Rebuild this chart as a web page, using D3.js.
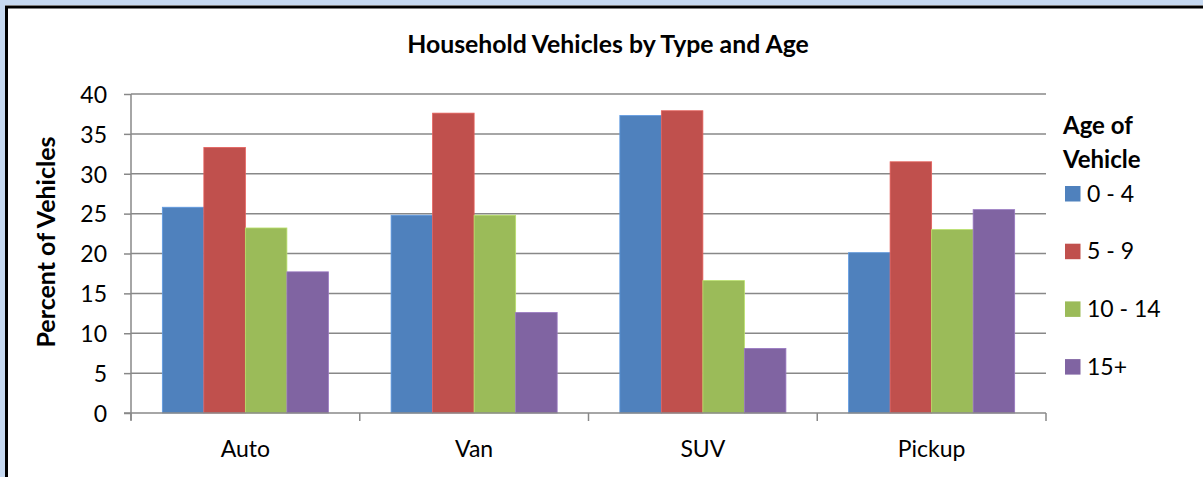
<!DOCTYPE html>
<html>
<head>
<meta charset="utf-8">
<script src="https://cdn.jsdelivr.net/npm/d3@7"></script>
<style>
  body { margin: 0; background: #c6d9f1; }
  svg { display: block; font-family: Lato, "Open Sans", sans-serif; }
</style>
</head>
<body>
<svg width="1203" height="477"></svg>
<script>
const categories = ["Auto", "Van", "SUV", "Pickup"];
const ageGroups = ["0 - 4", "5 - 9", "10 - 14", "15+"];
const age0to4 = [25.8, 24.8, 37.3, 20.1];
const age5to9 = [33.3, 37.6, 37.9, 31.5];
const age10to14 = [23.2, 24.8, 16.6, 23.0];
const age15plus = [17.7, 12.6, 8.1, 25.5];
const yTicks = [0, 5, 10, 15, 20, 25, 30, 35, 40];
const colors = ["#4f81bd", "#c0504d", "#9bbb59", "#8064a2"];

const series = [age0to4, age5to9, age10to14, age15plus];
const data = categories.map((c, i) => ({
  category: c,
  values: ageGroups.map((a, j) => ({ age: a, value: series[j][i], idx: j }))
}));

const svg = d3.select("svg");

// white chart background with black frame
svg.append("rect")
  .attr("x", 5).attr("y", 5)
  .attr("width", 1203).attr("height", 480)
  .attr("fill", "#fff");
svg.append("path")
  .attr("d", "M6.5,480 V7 H1210")
  .attr("fill", "none")
  .attr("stroke", "#000")
  .attr("stroke-width", 3);

const margin = {top: 94, left: 131},
      width = 1046 - 131,
      height = 413 - 94;

const g = svg.append("g").attr("transform", `translate(${margin.left},${margin.top})`);

const x0 = d3.scaleBand()
  .domain(categories)
  .range([0, width])
  .paddingInner(0.274)
  .paddingOuter(0.137);

const x1 = d3.scaleBand()
  .domain(ageGroups)
  .range([0, x0.bandwidth()]);

const y = d3.scaleLinear()
  .domain([0, 40])
  .range([height, 0]);

// gridlines
g.append("g")
  .selectAll("line")
  .data(yTicks.filter(d => d > 0))
  .join("line")
  .attr("x1", 0).attr("x2", width)
  .attr("y1", d => y(d)).attr("y2", d => y(d))
  .attr("stroke", "#888").attr("stroke-width", 1.5);

// bars
g.append("g")
  .selectAll("g")
  .data(data)
  .join("g")
  .attr("transform", d => `translate(${x0(d.category)},0)`)
  .selectAll("rect")
  .data(d => d.values)
  .join("rect")
  .attr("x", d => x1(d.age))
  .attr("y", d => y(d.value))
  .attr("width", x1.bandwidth())
  .attr("height", d => height - y(d.value))
  .attr("fill", d => colors[d.idx])
  .attr("stroke", d => d3.color(colors[d.idx]).brighter(0.5))
  .attr("stroke-width", 0.8);

// y axis
const yAxis = g.append("g")
  .call(d3.axisLeft(y).tickValues(yTicks).tickSize(7).tickPadding(17));
yAxis.select(".domain").attr("stroke", "#888").attr("stroke-width", 1.5).attr("d", `M0,${height + 7}V0`);
yAxis.selectAll(".tick line").attr("stroke", "#888").attr("stroke-width", 1.5);
yAxis.selectAll("text").style("font-size", "23px").style("font-family", "Lato").attr("fill", "#000").attr("dy", "0.36em");

// x axis
const xTickPos = d3.range(categories.length + 1).map(i => i * width / categories.length);
const xAxis = g.append("g").attr("transform", `translate(0,${height})`);
xAxis.append("line")
  .attr("x1", -7).attr("x2", width)
  .attr("stroke", "#888").attr("stroke-width", 1.5);
xAxis.selectAll(".xt")
  .data(xTickPos)
  .join("line")
  .attr("x1", d => d).attr("x2", d => d)
  .attr("y1", 0).attr("y2", 8)
  .attr("stroke", "#888").attr("stroke-width", 1.5);
xAxis.selectAll("text")
  .data(categories)
  .join("text")
  .attr("x", d => x0(d) + x0.bandwidth() / 2)
  .attr("y", 44)
  .attr("text-anchor", "middle")
  .style("font-size", "23px")
  .text(d => d);

// title
svg.append("text")
  .attr("x", 608).attr("y", 53)
  .attr("text-anchor", "middle")
  .style("font-size", "24.8px")
  .style("font-weight", "bold")
  .text("Household Vehicles by Type and Age");

// y axis title
svg.append("text")
  .attr("transform", "translate(55,242) rotate(-90)")
  .attr("text-anchor", "middle")
  .style("font-size", "25px")
  .style("font-weight", "bold")
  .text("Percent of Vehicles");

// legend
const legend = svg.append("g").attr("transform", "translate(1063,0)");
legend.append("text")
  .attr("y", 134)
  .style("font-size", "24px").style("font-weight", "bold")
  .text("Age of");
legend.append("text")
  .attr("y", 168)
  .style("font-size", "24px").style("font-weight", "bold")
  .text("Vehicle");
const items = legend.selectAll(".item")
  .data(ageGroups)
  .join("g")
  .attr("transform", (d, i) => `translate(0,${193.5 + i * 57.7})`);
items.append("rect")
  .attr("x", 2).attr("y", -7.5)
  .attr("width", 15.5).attr("height", 15.5)
  .attr("fill", (d, i) => colors[i]);
items.append("text")
  .attr("x", 24).attr("dy", "0.36em")
  .style("font-size", "23px")
  .text(d => d);
</script>
</body>
</html>
